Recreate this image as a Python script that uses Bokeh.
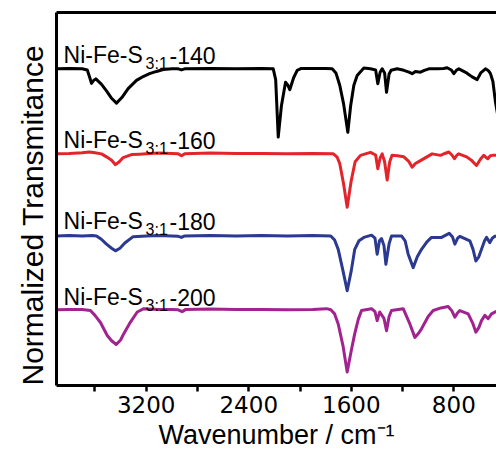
from bokeh.plotting import figure
from bokeh.models import Range1d, FixedTicker, LinearAxis, Label, Title
from bokeh.embed import file_html
from bokeh.resources import INLINE

# ---- data (wavenumber in cm-1, normalized transmittance with stacking offsets) ----
wn_140 = [3900, 3800, 3700, 3660, 3640, 3627, 3610, 3593, 3550, 3510, 3470, 3432, 3390, 3341, 3276,
          3220, 3174, 3120, 3067, 3000, 2950, 2925, 2900, 2700, 2500, 2300, 2209, 2190, 2170, 2145,
          2113, 2095, 2080, 2050, 2022, 1990, 1900, 1800, 1749, 1720, 1690, 1660, 1627, 1605, 1580,
          1554, 1502, 1450, 1410, 1393, 1375, 1359, 1340, 1325, 1305, 1289, 1242, 1190, 1150, 1125,
          1100, 1060, 1030, 995, 930, 880, 852, 820, 800, 780, 761, 700, 660, 618, 590, 553, 530,
          514, 495, 475, 450]
t_140 = [84.9, 85.0, 84.9, 84.6, 82.5, 81.0, 81.8, 82.2, 80.8, 79.0, 77.0, 75.7, 77.2, 79.6, 81.8,
         82.9, 83.6, 84.2, 84.7, 84.9, 84.9, 84.6, 84.9, 85.0, 84.9, 85.0, 84.9, 82.0, 66.6, 75.0,
         81.3, 80.5, 79.3, 82.5, 84.5, 85.0, 85.0, 85.0, 84.9, 83.8, 80.5, 75.5, 67.9, 75.0, 80.5,
         83.1, 85.1, 84.9, 84.6, 80.9, 84.0, 84.9, 83.8, 78.6, 83.5, 84.5, 84.9, 84.5, 84.0, 83.6,
         84.2, 84.0, 84.5, 84.9, 84.9, 85.0, 85.2, 84.6, 83.6, 84.5, 84.9, 83.8, 82.8, 82.0, 83.8,
         84.9, 84.4, 83.6, 81.5, 76.0, 71.0]

wn_160 = [3900, 3800, 3700, 3643, 3600, 3549, 3510, 3470, 3440, 3410, 3380, 3315, 3250, 3200, 3100,
          3000, 2950, 2925, 2900, 2700, 2500, 2300, 2100, 1900, 1740, 1710, 1690, 1660, 1632, 1600,
          1570, 1528, 1490, 1450, 1410, 1393, 1375, 1359, 1340, 1320, 1300, 1282, 1240, 1190, 1150,
          1125, 1100, 1060, 1010, 969, 904, 870, 839, 815, 795, 775, 761, 700, 660, 623, 590, 566,
          550, 535, 515, 498, 467]
t_160 = [62.1, 62.2, 62.4, 62.6, 62.4, 62.1, 61.3, 60.4, 59.2, 60.0, 61.1, 61.9, 62.0, 62.1, 62.3,
         62.2, 62.1, 61.6, 62.1, 62.3, 62.2, 62.2, 62.1, 62.2, 62.1, 61.2, 59.5, 54.0, 47.8, 55.0,
         60.0, 61.7, 62.1, 62.5, 61.8, 58.1, 61.0, 62.1, 60.0, 55.1, 60.0, 61.7, 61.6, 61.3, 60.0,
         58.5, 59.5, 60.3, 61.3, 62.1, 61.7, 62.2, 62.6, 61.8, 60.8, 61.8, 62.1, 61.3, 60.3, 59.0,
         60.8, 61.7, 61.2, 60.8, 61.6, 61.7, 61.7]

wn_180 = [3900, 3800, 3700, 3620, 3588, 3550, 3510, 3470, 3440, 3405, 3367, 3302, 3200, 3100, 3000,
          2950, 2925, 2900, 2700, 2500, 2300, 2100, 1900, 1760, 1730, 1702, 1665, 1632, 1600, 1573,
          1540, 1502, 1442, 1415, 1398, 1380, 1364, 1345, 1330, 1305, 1286, 1208, 1180, 1156, 1117,
          1085, 1052, 1010, 974, 896, 836, 810, 792, 770, 753, 675, 650, 628, 605, 584, 560, 545,
          519, 500, 480, 467]
t_180 = [40.1, 40.2, 40.1, 40.2, 40.1, 39.2, 37.9, 36.8, 36.1, 36.8, 38.2, 39.9, 40.1, 40.2, 40.1,
         40.0, 39.7, 40.1, 40.2, 40.1, 40.2, 40.1, 40.2, 40.1, 39.0, 36.5, 30.8, 25.4, 30.8, 36.5,
         38.8, 39.7, 40.3, 39.5, 35.2, 38.8, 39.4, 37.5, 32.5, 38.0, 40.1, 40.1, 38.8, 35.2, 31.6,
         34.5, 36.5, 38.5, 39.7, 39.7, 40.8, 39.8, 37.9, 39.5, 40.0, 38.8, 36.5, 33.4, 34.5, 36.5,
         38.8, 39.7, 38.3, 39.5, 40.0, 40.0]

wn_200 = [3900, 3800, 3700, 3635, 3600, 3557, 3504, 3470, 3434, 3400, 3375, 3323, 3270, 3219, 3100,
          3000, 2950, 2920, 2890, 2700, 2500, 2300, 2100, 1900, 1793, 1760, 1730, 1702, 1665, 1632,
          1600, 1573, 1545, 1520, 1442, 1415, 1398, 1378, 1345, 1325, 1305, 1286, 1195, 1143, 1104,
          1075, 1052, 1000, 961, 900, 844, 815, 792, 770, 753, 688, 650, 628, 605, 584, 558, 532,
          506, 467]
t_200 = [20.3, 20.4, 20.4, 20.1, 18.8, 16.9, 13.4, 12.0, 11.0, 12.2, 13.9, 17.0, 19.7, 20.6, 20.4,
         20.4, 20.3, 19.8, 20.4, 20.5, 20.4, 20.4, 20.3, 20.4, 20.6, 20.3, 19.2, 16.5, 10.7, 3.6,
         9.4, 13.9, 17.8, 20.1, 20.6, 19.8, 17.4, 19.7, 18.0, 14.7, 18.5, 20.1, 20.6, 16.5, 12.9,
         14.0, 15.2, 18.5, 20.1, 20.8, 21.2, 20.0, 18.3, 19.5, 20.1, 19.2, 16.5, 14.3, 15.5, 17.4,
         18.8, 17.9, 19.2, 19.9]

sample_temps = ["140", "160", "180", "200"]
x_ticks = [3200, 2400, 1600, 800]
x_minor_ticks = [3600, 2800, 2000, 1200]

# ---- styling / layout ----
colors = ["#000000", "#e3242b", "#2b3990", "#a1238f"]
label_y = [88.5, 65.7, 44.0, 23.6]
FONT = "Liberation Sans"

p = figure(width=496, height=457, output_backend="svg", toolbar_location=None,
           x_range=Range1d(3900, 467), y_range=Range1d(0, 100),
           min_border_left=56, min_border_right=0, min_border_top=12, min_border_bottom=72)
p.outline_line_color = None
p.xgrid.visible = False
p.ygrid.visible = False
p.background_fill_color = "white"
p.border_fill_color = "white"

series = [(wn_140, t_140), (wn_160, t_160), (wn_180, t_180), (wn_200, t_200)]
for (wn, t), c in zip(series, colors):
    p.line(wn, t, line_color=c, line_width=3, line_join="round")

xa = p.xaxis[0]
xa.ticker = FixedTicker(ticks=x_ticks, minor_ticks=x_minor_ticks)
xa.axis_line_width = 3
xa.axis_line_color = "black"
xa.major_tick_line_width = 2.5
xa.minor_tick_line_width = 2.5
xa.major_tick_in = 0
xa.major_tick_out = 6
xa.minor_tick_in = 0
xa.minor_tick_out = 6
xa.major_label_text_font = "DejaVu Sans"
xa.major_label_text_font_size = "23px"
xa.major_label_text_color = "black"
xa.major_label_standoff = 4
xa.axis_label = "Wavenumber / cm\u207b\u00b9"
xa.axis_label_text_font = FONT
xa.axis_label_text_font_size = "27px"
xa.axis_label_text_font_style = "normal"
xa.axis_label_text_color = "black"
xa.axis_label_standoff = 4

ya = p.yaxis[0]
ya.ticker = FixedTicker(ticks=[])
ya.axis_line_width = 3
ya.axis_line_color = "black"
ya.major_tick_line_color = None
ya.minor_tick_line_color = None

top = LinearAxis(ticker=FixedTicker(ticks=[]), axis_line_width=3, axis_line_color="black",
                 major_tick_line_color=None, minor_tick_line_color=None,
                 major_label_text_font_size="0px")
p.add_layout(top, "above")

# y-axis title as a side title (allows an offset along the axis)
p.add_layout(Title(text="Normalized Transmitance", align="left", offset=0,
                   text_font=FONT, text_font_size="30px", text_font_style="normal",
                   text_color="black", standoff=16), "left")

for name, ly in zip(sample_temps, label_y):
    p.add_layout(Label(x=3845, y=ly, text="Ni-Fe-S", text_font=FONT, text_font_size="23px",
                       text_baseline="alphabetic", text_color="black"))
    p.add_layout(Label(x=3845, y=ly - 2.2, x_offset=82, text="3:1", text_font=FONT,
                       text_font_size="16px", text_baseline="alphabetic", text_color="black"))
    p.add_layout(Label(x=3845, y=ly, x_offset=106, text="-" + name, text_font=FONT,
                       text_font_size="23px", text_baseline="alphabetic", text_color="black"))

open("out.html", "w").write(file_html(p, INLINE))
